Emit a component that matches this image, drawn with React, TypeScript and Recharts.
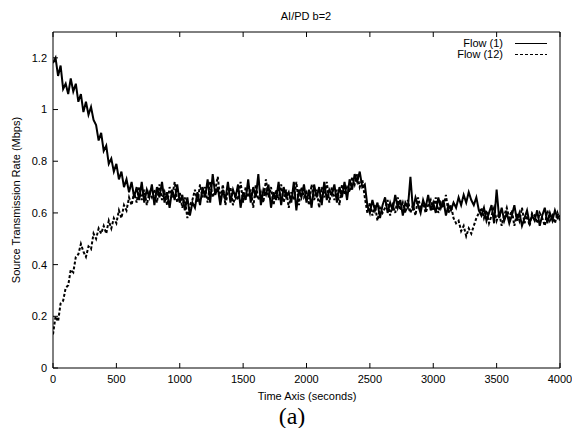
import React from 'react';
import { LineChart, Line, XAxis, YAxis, Legend } from 'recharts';

// sampling step of the traces (seconds)
const STEP = 20;

const xTicks = [0, 500, 1000, 1500, 2000, 2500, 3000, 3500, 4000];
const yTicks = [0, 0.2, 0.4, 0.6, 0.8, 1, 1.2];

// Flow (1) source rate (Mbps), one value every 20 s from 0 to 4000 s
const flow1 = [
  1.18, 1.20, 1.13, 1.17, 1.08, 1.10, 1.06, 1.12, 1.07, 1.10,
  1.03, 1.06, 0.99, 1.03, 0.98, 1.01, 0.96, 0.94, 0.88, 0.91,
  0.84, 0.86, 0.79, 0.81, 0.76, 0.79, 0.73, 0.76, 0.70, 0.73,
  0.68, 0.72, 0.66, 0.70, 0.65, 0.72, 0.64, 0.69, 0.66, 0.71,
  0.63, 0.70, 0.66, 0.72, 0.64, 0.68, 0.62, 0.69, 0.65, 0.71,
  0.64, 0.67, 0.61, 0.66, 0.59, 0.64, 0.62, 0.68, 0.63, 0.70,
  0.66, 0.73, 0.64, 0.75, 0.67, 0.70, 0.63, 0.69, 0.65, 0.72,
  0.64, 0.69, 0.66, 0.71, 0.62, 0.68, 0.65, 0.73, 0.64, 0.70,
  0.66, 0.75, 0.63, 0.69, 0.67, 0.71, 0.62, 0.68, 0.65, 0.72,
  0.63, 0.70, 0.66, 0.68, 0.64, 0.72, 0.61, 0.69, 0.66, 0.71,
  0.64, 0.69, 0.62, 0.71, 0.66, 0.70, 0.63, 0.72, 0.65, 0.69,
  0.67, 0.71, 0.64, 0.70, 0.66, 0.72, 0.65, 0.73, 0.69, 0.75,
  0.72, 0.76, 0.70, 0.71, 0.63, 0.60, 0.65, 0.61, 0.64, 0.58,
  0.63, 0.66, 0.60, 0.64, 0.61, 0.67, 0.62, 0.65, 0.59, 0.64,
  0.62, 0.74, 0.61, 0.66, 0.63, 0.60, 0.65, 0.62, 0.67, 0.61,
  0.64, 0.60, 0.66, 0.62, 0.65, 0.59, 0.63, 0.61, 0.64, 0.62,
  0.66, 0.63, 0.67, 0.64, 0.68, 0.65, 0.63, 0.66, 0.61, 0.59,
  0.62, 0.57, 0.60, 0.63, 0.56, 0.69, 0.58, 0.62, 0.57, 0.60,
  0.56, 0.59, 0.63, 0.57, 0.60, 0.55, 0.58, 0.61, 0.56, 0.59,
  0.57, 0.61, 0.55, 0.59, 0.62, 0.56, 0.60, 0.57, 0.61, 0.58,
  0.59,
];

// Flow (12) source rate (Mbps), same sampling
const flow12 = [
  0.13, 0.20, 0.18, 0.25, 0.26, 0.31, 0.32, 0.38, 0.37, 0.43,
  0.44, 0.48, 0.45, 0.43, 0.47, 0.46, 0.52, 0.50, 0.54, 0.52,
  0.55, 0.52, 0.57, 0.54, 0.58, 0.56, 0.61, 0.58, 0.63, 0.61,
  0.66, 0.63, 0.68, 0.64, 0.70, 0.65, 0.69, 0.63, 0.68, 0.66,
  0.69, 0.64, 0.71, 0.65, 0.68, 0.63, 0.70, 0.66, 0.72, 0.64,
  0.68, 0.62, 0.66, 0.58, 0.63, 0.65, 0.69, 0.64, 0.71, 0.66,
  0.70, 0.64, 0.72, 0.66, 0.69, 0.74, 0.65, 0.71, 0.63, 0.68,
  0.70, 0.63, 0.67, 0.65, 0.72, 0.64, 0.70, 0.66, 0.69, 0.62,
  0.71, 0.65, 0.68, 0.64, 0.73, 0.66, 0.70, 0.63, 0.69, 0.65,
  0.71, 0.64, 0.69, 0.62, 0.68, 0.65, 0.72, 0.63, 0.70, 0.66,
  0.68, 0.63, 0.71, 0.65, 0.69, 0.62, 0.70, 0.66, 0.72, 0.64,
  0.70, 0.65, 0.69, 0.63, 0.71, 0.67, 0.70, 0.68, 0.74, 0.71,
  0.75, 0.70, 0.73, 0.66, 0.60, 0.64, 0.59, 0.63, 0.57, 0.62,
  0.60, 0.62, 0.65, 0.59, 0.63, 0.60, 0.66, 0.61, 0.64, 0.60,
  0.65, 0.60, 0.63, 0.59, 0.66, 0.62, 0.64, 0.60, 0.63, 0.65,
  0.61, 0.66, 0.60, 0.64, 0.62, 0.67, 0.60, 0.63, 0.58, 0.56,
  0.57, 0.53, 0.55, 0.51, 0.54, 0.52, 0.55, 0.58, 0.60, 0.62,
  0.58, 0.61, 0.56, 0.59, 0.62, 0.57, 0.60, 0.55, 0.59, 0.62,
  0.58, 0.61, 0.55, 0.60, 0.57, 0.62, 0.56, 0.59, 0.55, 0.60,
  0.59, 0.56, 0.60, 0.58, 0.55, 0.61, 0.57, 0.59, 0.56, 0.60,
  0.57,
];

const series = [
  { key: 'f1', name: 'Flow (1)', values: flow1, dash: undefined as string | undefined },
  { key: 'f12', name: 'Flow (12)', values: flow12, dash: '3 2' },
];

const data = flow1.map((_, i) => ({
  t: i * STEP,
  f1: flow1[i],
  f12: flow12[i],
}));

const FONT = '"Liberation Sans", Arial, Helvetica, sans-serif';
const tickStyle = { fontSize: 11, fill: '#000', fontFamily: FONT };

const LegendBox = (props: any) => {
  const payload = props.payload || [];
  return (
    <div style={{ width: 147, fontFamily: FONT, fontSize: 11, color: '#000' }}>
      {payload.map((entry: any) => {
        const s = series.find((x) => x.key === entry.dataKey);
        return (
          <div key={entry.dataKey} style={{ display: 'flex', alignItems: 'center', height: 11, lineHeight: '11px' }}>
            <span style={{ flex: 1, textAlign: 'right', whiteSpace: 'nowrap' }}>{entry.value}</span>
            <svg width={32} height={11} style={{ marginLeft: 12, display: 'block' }}>
              <line x1={0} y1={5.5} x2={32} y2={5.5} stroke="#000" strokeWidth={1} strokeDasharray={s?.dash} />
            </svg>
          </div>
        );
      })}
    </div>
  );
};

const center = (x: number, y: number, extra: React.CSSProperties = {}): React.CSSProperties => ({
  position: 'absolute',
  left: x,
  top: y,
  transform: 'translate(-50%, -50%)',
  whiteSpace: 'nowrap',
  fontFamily: FONT,
  fontSize: 11,
  lineHeight: '12px',
  color: '#000',
  ...extra,
});

export default function App() {
  return (
    <div style={{ position: 'absolute', left: 0, top: 0, width: 572, height: 428, background: '#fff', overflow: 'hidden' }}>
      <LineChart width={572} height={428} data={data} margin={{ top: 31, right: 11, bottom: 20, left: 0 }}>
        <XAxis
          dataKey="t"
          type="number"
          domain={[0, 4000]}
          ticks={xTicks}
          height={40}
          tickSize={-5}
          tickMargin={12}
          tick={tickStyle}
          stroke="#000"
          interval={0}
          allowDataOverflow
        />
        <XAxis
          xAxisId="top"
          dataKey="t"
          type="number"
          orientation="top"
          domain={[0, 4000]}
          ticks={xTicks}
          height={1}
          tickSize={-5}
          tickFormatter={() => ''}
          stroke="#000"
          interval={0}
        />
        <YAxis
          type="number"
          domain={[0, 1.3]}
          ticks={yTicks}
          width={53}
          tickSize={-5}
          tickMargin={11}
          tick={tickStyle}
          stroke="#000"
          interval={0}
          allowDataOverflow
        />
        <YAxis
          yAxisId="right"
          type="number"
          orientation="right"
          domain={[0, 1.3]}
          ticks={yTicks}
          width={1}
          tickSize={-5}
          tickFormatter={() => ''}
          stroke="#000"
          interval={0}
        />
        <Legend
          layout="horizontal"
          verticalAlign="middle"
          align="center"
          wrapperStyle={{ position: 'absolute', left: 400, top: 38, width: 147 }}
          content={LegendBox}
        />
        {series.map((s) => (
          <Line
            key={s.key}
            dataKey={s.key}
            name={s.name}
            type="linear"
            stroke="#000"
            strokeWidth={2}
            strokeDasharray={s.dash}
            dot={false}
            activeDot={false}
            isAnimationActive={false}
          />
        ))}
      </LineChart>
      <div style={center(306, 16)}>AI/PD b=2</div>
      <div style={center(307, 396)}>Time Axis (seconds)</div>
      <div style={center(16, 200, { transform: 'translate(-50%, -50%) rotate(-90deg)' })}>
        Source Transmission Rate (Mbps)
      </div>
      <div style={center(292, 416, { fontFamily: '"Liberation Serif", "Times New Roman", serif', fontSize: 24, lineHeight: '26px' })}>
        (a)
      </div>
    </div>
  );
}
